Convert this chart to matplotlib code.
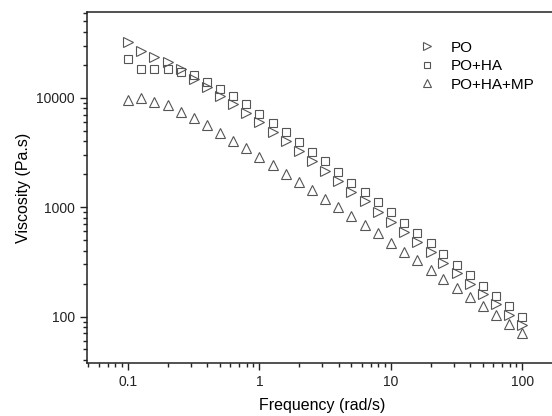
import numpy as np
import matplotlib
matplotlib.use("Agg")
import matplotlib.pyplot as plt
from matplotlib.ticker import LogLocator, FixedLocator, NullFormatter

plt.rcParams['font.family'] = ['Liberation Sans', 'DejaVu Sans']

frequency = [0.1, 0.126, 0.158, 0.2, 0.251, 0.316, 0.398, 0.501, 0.631, 0.794,
             1.0, 1.26, 1.58, 2.0, 2.51, 3.16, 3.98, 5.01, 6.31, 7.94,
             10.0, 12.6, 15.8, 20.0, 25.1, 31.6, 39.8, 50.1, 63.1, 79.4, 100.0]

po = [32100, 26800, 23700, 21100, 18200, 15000, 12600, 10400, 8700, 7300,
      5960, 4860, 4030, 3260, 2660, 2140, 1720, 1370, 1140, 910,
      733, 590, 478, 388, 309, 249, 200, 161, 130, 103, 83]

po_ha = [22400, 18200, 18500, 18200, 17300, 16000, 13900, 12000, 10400, 8810,
         7150, 5910, 4860, 3960, 3190, 2630, 2090, 1670, 1370, 1110,
         901, 722, 578, 469, 374, 299, 239, 192, 155, 125, 100]

po_ha_mp = [9530, 9940, 9140, 8580, 7360, 6530, 5640, 4760, 4030, 3450,
            2890, 2430, 2020, 1690, 1440, 1190, 998, 832, 693, 578,
            475, 390, 328, 269, 222, 184, 151, 125, 103, 85, 70]

labels = ['PO', 'PO+HA', 'PO+HA+MP']
x_ticks = [0.1, 1, 10, 100]
x_ticklabels = ['0.1', '1', '10', '100']
y_ticks = [100, 1000, 10000]
y_ticklabels = ['100', '1000', '10000']

W, H = 552, 416
fig = plt.figure(figsize=(W / 100, H / 100), dpi=100)
ax = fig.add_axes([87.3 / W, (H - 363) / H, 1 - 87.3 / W + 0.01, (363 - 12.3) / H])

ec = '#555555'
ax.plot(frequency, po, linestyle='none', marker='>', ms=7.8, mfc='none', mec=ec, mew=0.8, label=labels[0])
ax.plot(frequency, po_ha, linestyle='none', marker='s', ms=6.4, mfc='none', mec=ec, mew=0.8, label=labels[1])
ax.plot(frequency, po_ha_mp, linestyle='none', marker='^', ms=7.8, mfc='none', mec=ec, mew=0.8, label=labels[2])

ax.set_xscale('log')
ax.set_yscale('log')
ax.set_xlim(0.049, 185)
ax.set_ylim(37.6, 60500)

ax.xaxis.set_major_locator(FixedLocator(x_ticks))
ax.set_xticklabels(x_ticklabels)
ax.yaxis.set_major_locator(FixedLocator(y_ticks))
ax.set_yticklabels(y_ticklabels)
ax.xaxis.set_minor_locator(LogLocator(base=10, subs=np.arange(2, 10)))
ax.yaxis.set_minor_locator(LogLocator(base=10, subs=np.arange(2, 10)))
ax.xaxis.set_minor_formatter(NullFormatter())
ax.yaxis.set_minor_formatter(NullFormatter())

ax.tick_params(which='major', direction='out', length=5, width=1, labelsize=10, pad=4, colors='#222222')
ax.tick_params(which='minor', direction='out', length=3, width=1, colors='#222222')
ax.tick_params(top=False, right=False, which='both')

for side in ['left', 'bottom', 'top']:
    ax.spines[side].set_linewidth(1.1)
    ax.spines[side].set_color('#222222')
ax.spines['right'].set_visible(False)

ax.set_xlabel('Frequency (rad/s)', fontsize=11.5, labelpad=6)
ax.set_ylabel('Viscosity (Pa.s)', fontsize=11.5, labelpad=4)

leg = ax.legend(loc='upper left', bbox_to_anchor=((410) / W, (H - 33) / H),
                bbox_transform=fig.transFigure, frameon=False, fontsize=11,
                markerscale=0.75, handlelength=1.2, handletextpad=1.0,
                labelspacing=0.3, borderpad=0)

fig.savefig('out.png', dpi=100)
